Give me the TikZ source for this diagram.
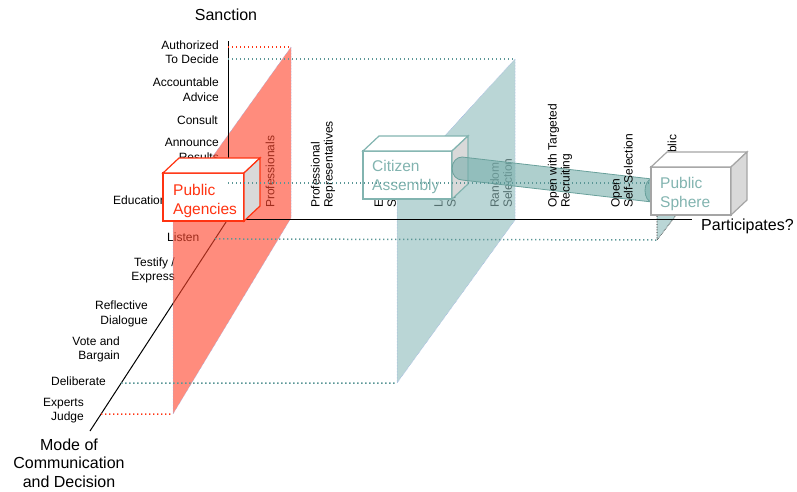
\documentclass[tikz,border=0pt]{standalone}
\usepackage{fontspec}
\setmainfont{Liberation Sans}
\usepackage{tikz}
\usetikzlibrary{calc}
\definecolor{agency}{RGB}{255,51,17}
\definecolor{salmon}{RGB}{255,70,45}
\definecolor{seafoam}{RGB}{140,186,186}
\definecolor{assembly}{RGB}{130,180,176}
\definecolor{guide}{RGB}{90,150,150}
\definecolor{sideface}{RGB}{217,217,217}
\definecolor{spheregray}{RGB}{165,165,165}
\definecolor{edgeblue}{RGB}{150,170,230}
\definecolor{tube}{RGB}{120,175,172}
\definecolor{tubeedge}{RGB}{105,160,155}
\tikzstyle{rowlabel}=[font=\fontsize{12}{14.5}\selectfont,align=right,anchor=east,inner sep=0pt]
\tikzstyle{collabel}=[font=\fontsize{12}{13}\selectfont,align=left,rotate=90,anchor=west,inner sep=0pt]
\tikzstyle{axislabel}=[font=\fontsize{16}{18.5}\selectfont,align=center,inner sep=0pt]
\tikzstyle{boxlabel}=[font=\fontsize{15.5}{18.5}\selectfont,align=left,anchor=west,inner sep=0pt]
\tikzstyle{axisline}=[black,line width=1pt]
\tikzstyle{planeedge}=[draw=edgeblue,densely dotted,line width=.5pt]
\tikzstyle{tealguide}=[guide,line width=1.5pt,dash pattern=on 1.4pt off 2.6pt]
\tikzstyle{redguide}=[agency,line width=1.5pt,dash pattern=on 1.4pt off 2.6pt]
% front face corners, then a depth of (16,-15)
\newcommand{\drawcube}[5]{%
  \filldraw[#1,line width=1.2pt,fill=white] (#2,#3) rectangle (#4,#5);
  \filldraw[#1,line width=1.2pt,fill=white] (#2,#3) -- ++(16,-15) -- (#4+16,#3-15) -- (#4,#3) -- cycle;
  \filldraw[#1,line width=1.2pt,fill=sideface] (#4,#3) -- (#4+16,#3-15) -- (#4+16,#5-15) -- (#4,#5) -- cycle;
}

\begin{document}
\begin{tikzpicture}[x=1pt,y=-1pt]
  \useasboundingbox (0,0) rectangle (797,491);
  % axes and plane corners
  \coordinate (origin) at (228,219);
  \coordinate (sanctop) at (228,41);
  \coordinate (partend) at (692,219);
  \coordinate (modeend) at (90,431);
  \coordinate (redtop) at (291,47);
  \coordinate (redfoot) at (291,218);
  \coordinate (redlow) at (173,414);
  \coordinate (redleft) at (173,212);
  \coordinate (tealtop) at (515,59);
  \coordinate (tealfoot) at (515,220);
  \coordinate (teallow) at (397,383);
  \coordinate (tealleft) at (397,188);
  \coordinate (spheretop) at (677,183);
  \coordinate (spherefoot) at (677,214);
  \coordinate (spherelow) at (657,240);
  \coordinate (sphereleft) at (657,205);

  % sanction levels
  \node[rowlabel] (authorized) at (219,52) {Authorized\\To Decide};
  \node[rowlabel] (accountable) at (219,89.5) {Accountable\\Advice};
  \node[rowlabel] (consult) at (218,120) {Consult};
  \node[rowlabel] (announce) at (219,150) {Announce\\Results};
  \node[rowlabel,anchor=west] (education) at (113,200) {Education};
  \node[rowlabel,anchor=west] (listen) at (167,237) {Listen};
  \node[rowlabel] (testify) at (175,270.5) {Testify /\\Express};
  \node[rowlabel] (reflective) at (148,314) {Reflective\\Dialogue};
  \node[rowlabel] (vote) at (120,349.5) {Vote and\\Bargain};
  \node[rowlabel] (deliberate) at (106,381) {Deliberate};
  \node[rowlabel] (experts) at (84,410.5) {Experts\\Judge};
  % who participates
  \node[collabel] (professionals) at (270,208) {Professionals};
  \node[collabel] (profrep) at (323,208) {Professional\\Representatives};
  \node[collabel] (elected) at (385,208) {Elected\\Stakeholders};
  \node[collabel] (lay) at (445,208) {Lay\\Stakeholders};
  \node[collabel] (random) at (501,208) {Random\\Selection};
  \node[collabel] (diffuse) at (672,208) {Diffuse Public};
  % axis names
  \node[axislabel] (sanction) at (226,15) {Sanction};
  \node[axislabel,anchor=west] (participates) at (701,226) {Participates?};
  \node[axislabel] (mode) at (69,463) {Mode of\\Communication\\and Decision};

  \draw[axisline] (origin) -- (modeend);
  \filldraw[fill=salmon,fill opacity=.62,planeedge] (redtop) -- (redfoot) -- (redlow) -- (redleft) -- cycle;
  \filldraw[fill=seafoam,fill opacity=.6,planeedge] (tealtop) -- (tealfoot) -- (teallow) -- (tealleft) -- cycle;
  \fill[seafoam,fill opacity=.6] (spheretop) -- (spherefoot) -- (spherelow) -- (sphereleft) -- cycle;
  \draw[black,densely dotted,line width=.6pt] (spherefoot) -- (spherelow) -- (sphereleft);
  \draw[axisline] (sanctop) -- (origin) -- (partend);

  \drawcube{agency}{163}{173}{244}{221}
  \drawcube{assembly}{363}{151}{452}{199}
  % tube between assembly and sphere
  \filldraw[fill=tube,fill opacity=.6,draw=tubeedge,line width=.8pt] (652,179) -- (462,157)
    arc[start angle=270,end angle=90,x radius=10,y radius=11.5] -- (652,202);
  \filldraw[fill=tube,fill opacity=.6,draw=tubeedge,line width=.8pt] (652,190.5) ellipse [x radius=7,y radius=11.5];

  \draw[redguide] (origin |- redtop) -- (redtop);
  \draw[tealguide] (origin |- tealtop) -- (tealtop);
  \draw[tealguide] (origin |- spheretop) -- (spheretop);
  \draw[tealguide] ($(origin)!.094!(modeend)$) -- (spherelow);
  \draw[tealguide] ($(origin)!.774!(modeend)$) -- (teallow);
  \draw[redguide] ($(origin)!.92!(modeend)$) -- (redlow);

  \drawcube{spheregray}{651}{167}{731}{215}
  \node[collabel] (targeted) at (560,208) {Open with Targeted\\Recruiting};
  \node[collabel] (selfsel) at (622,208) {Open\\Self-Selection};

  \node[boxlabel,text=agency] (agencies) at (173,201) {Public\\Agencies};
  \node[boxlabel,text=assembly] (citizen) at (372,177) {Citizen\\Assembly};
  \node[boxlabel,text=assembly] (sphere) at (660,194) {Public\\Sphere};
\end{tikzpicture}
\end{document}
